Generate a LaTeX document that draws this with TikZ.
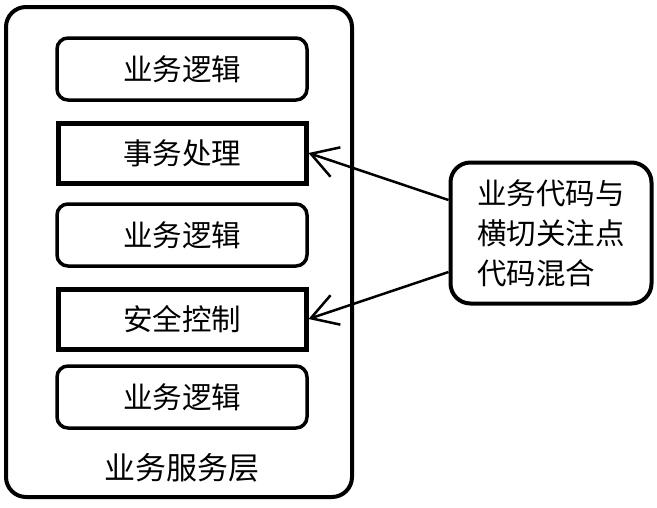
\documentclass[tikz,border=0pt]{standalone}
\usepackage{fontspec}
\newfontfamily\cjk{Noto Sans CJK SC}
\usepackage{tikz}
\usetikzlibrary{arrows.meta}

\begin{document}
\begin{tikzpicture}[x=1pt, y=-1pt, >={Straight Barb[length=26pt,width=31pt]},
    roundbox/.style={draw, line width=3.5pt, rounded corners=11pt, minimum width=250pt, minimum height=62pt, font=\cjk\fontsize{29.5}{40}\selectfont},
    squarebox/.style={draw, line width=5pt, minimum width=248pt, minimum height=60pt, font=\cjk\fontsize{29.5}{40}\selectfont}]
    \useasboundingbox (0,0) rectangle (657,507);
    \node[draw, line width=4pt, rounded corners=20pt, minimum width=346pt, minimum height=490pt] (layer) at (179,252) {};
    \node[roundbox] (logic1) at (182,69) {业务逻辑};
    \node[squarebox] (trans) at (182,153) {事务处理};
    \node[roundbox] (logic2) at (182,235) {业务逻辑};
    \node[squarebox] (secure) at (182,319) {安全控制};
    \node[roundbox] (logic3) at (182,397) {业务逻辑};
    \node[font=\cjk\fontsize{31}{40}\selectfont] (layername) at (182,468) {业务服务层};
    \node[draw, line width=4pt, rounded corners=20pt, minimum width=201pt, minimum height=141pt, align=left, font=\cjk\fontsize{29.5}{40}\selectfont] (mixed) at (551,233) {业务代码与\\横切关注点\\代码混合};
    \coordinate (src1) at (mixed.west |- 0,200);
    \coordinate (src2) at (mixed.west |- 0,272);
    \draw[->, line width=2.5pt] (src1) -- (trans.east);
    \draw[->, line width=2.5pt] (src2) -- (secure.east);
\end{tikzpicture}
\end{document}
